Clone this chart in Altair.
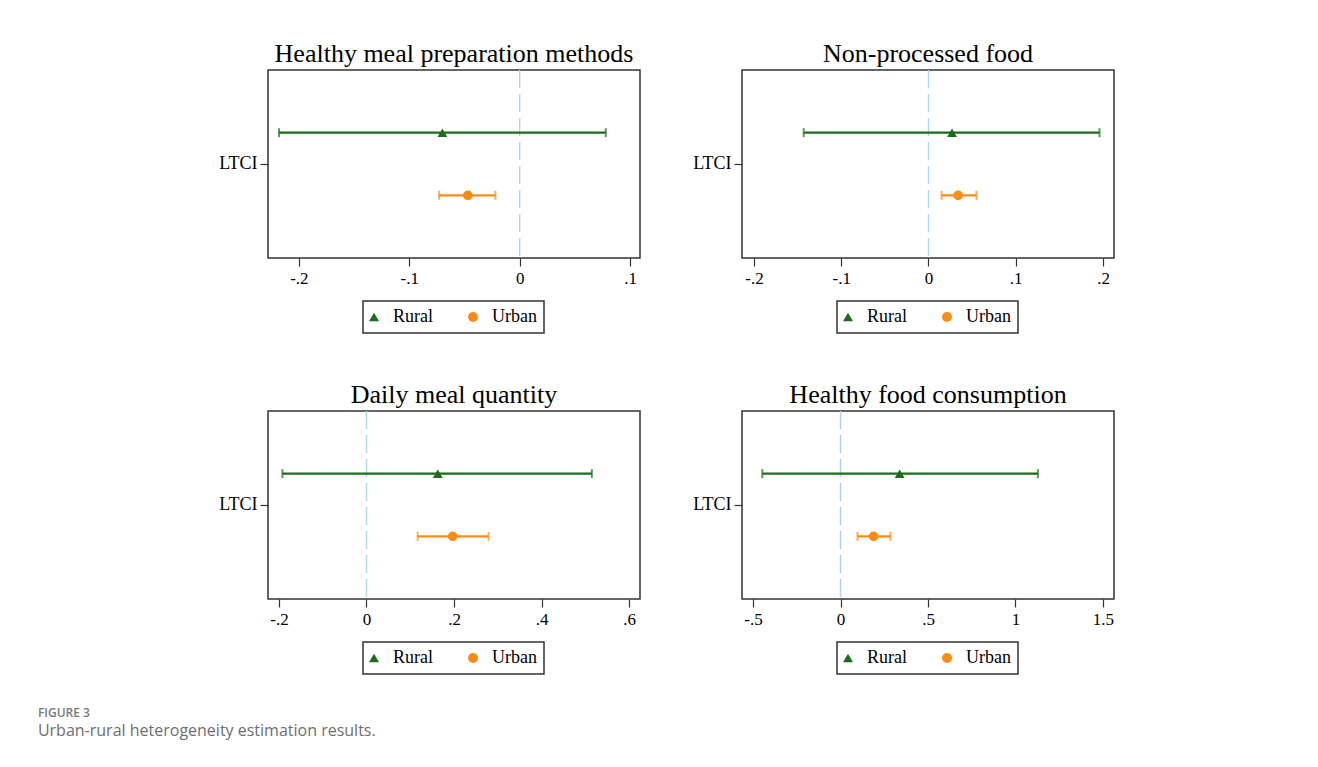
import altair as alt
import pandas as pd

panel_titles = [
    "Healthy meal preparation methods",
    "Non-processed food",
    "Daily meal quantity",
    "Healthy food consumption",
]
term = "LTCI"
groups = ["Rural", "Urban"]

rural_est = [-0.070, 0.027, 0.163, 0.338]
rural_lo = [-0.218, -0.143, -0.192, -0.447]
rural_hi = [0.078, 0.196, 0.515, 1.128]

urban_est = [-0.047, 0.034, 0.197, 0.189]
urban_lo = [-0.073, 0.015, 0.117, 0.097]
urban_hi = [-0.022, 0.055, 0.279, 0.286]

x_ticks = [
    [-0.2, -0.1, 0, 0.1],
    [-0.2, -0.1, 0, 0.1, 0.2],
    [-0.2, 0, 0.2, 0.4, 0.6],
    [-0.5, 0, 0.5, 1, 1.5],
]
x_domains = [
    [-0.228, 0.109],
    [-0.2137, 0.2126],
    [-0.225, 0.625],
    [-0.563, 1.563],
]
ref_value = 0

colors = ["#1b6c1b", "#ff8a14"]
shapes = ["triangle-up", "circle"]
SERIF = "Liberation Serif"


def panel(i):
    df = pd.DataFrame({
        "term": [term, term],
        "group": groups,
        "est": [rural_est[i], urban_est[i]],
        "lo": [rural_lo[i], urban_lo[i]],
        "hi": [rural_hi[i], urban_hi[i]],
    })
    xscale = alt.Scale(domain=x_domains[i], nice=False, zero=False)
    xaxis = alt.Axis(
        values=x_ticks[i],
        labelExpr="replace(toString(datum.value), '0.', '.')",
        title=None, grid=False, domain=False,
        tickSize=8, tickColor="#333", tickWidth=1.2,
        labelFont=SERIF, labelFontSize=17, labelColor="black",
        labelPadding=4, labelFlush=False, labelOverlap=False,
    )
    y = alt.Y(
        "term:N",
        scale=alt.Scale(paddingInner=0, paddingOuter=0),
        axis=alt.Axis(
            title=None, grid=False, domain=False,
            tickSize=8, tickColor="#333", tickWidth=1.2,
            labelFont=SERIF, labelFontSize=18, labelColor="black",
            labelPadding=3,
        ),
    )
    yoff = alt.YOffset(
        "group:N",
        scale=alt.Scale(domain=groups, paddingInner=0, paddingOuter=0.5),
    )
    cscale = alt.Scale(domain=groups, range=colors)
    sscale = alt.Scale(domain=groups, range=shapes)
    legend = alt.Legend(
        orient="none", legendX=95, legendY=231, direction="horizontal",
        title=None, strokeColor="#333", padding=7,
        labelFont=SERIF, labelFontSize=18, labelColor="black",
        labelOffset=10, columnPadding=35, symbolSize=100,
        symbolStrokeWidth=0, symbolOffset=-5,
    )
    base = alt.Chart(df)

    zero = alt.Chart(pd.DataFrame({"z": [ref_value]})).mark_rule(
        color="#a8d6ef", strokeDash=[18, 6], strokeWidth=1.4
    ).encode(x=alt.X("z:Q", scale=xscale, axis=xaxis))

    layers = [zero]
    for g, col in zip(groups, colors):
        sub = base.transform_filter(alt.datum.group == g)
        layers.append(
            sub.mark_rule(strokeWidth=2.4, color=col).encode(
                x=alt.X("lo:Q", scale=xscale, axis=xaxis),
                x2="hi:Q",
                y=y,
                yOffset=yoff,
            )
        )
        layers.append(
            sub.transform_fold(["lo", "hi"], as_=["k", "v"]).mark_tick(
                orient="vertical", size=9, thickness=2, color=col
            ).encode(
                x=alt.X("v:Q", scale=xscale, axis=xaxis),
                y=y,
                yOffset=yoff,
            )
        )
    pts = base.mark_point(filled=True, size=95, opacity=1).encode(
        x=alt.X("est:Q", scale=xscale, axis=xaxis),
        y=y,
        yOffset=yoff,
        color=alt.Color("group:N", scale=cscale, legend=legend),
        shape=alt.Shape("group:N", scale=sscale, legend=legend),
    )
    layers.append(pts)
    return alt.layer(*layers).properties(
        width=372,
        height=188,
        title=alt.Title(
            panel_titles[i], font=SERIF, fontSize=26, fontWeight="normal",
            color="black", offset=2, anchor="middle",
        ),
    )


chart = alt.concat(
    *[panel(i) for i in range(4)],
    columns=2,
    spacing={"row": 153, "column": 102},
).resolve_scale(
    x="independent", color="independent", shape="independent",
).properties(
    bounds="flush",
    padding={"left": 29, "top": 32, "right": 5, "bottom": 5},
    title=alt.Title(
        "FIGURE 3",
        subtitle="Urban-rural heterogeneity estimation results.",
        orient="bottom", anchor="start", frame="bounds", dx=-180, offset=32,
        font="Open Sans", fontSize=12, fontWeight=600, color="#7a7a7a",
        subtitleFont="Open Sans", subtitleFontSize=16, subtitleColor="#6e6e6e",
        subtitlePadding=3,
    ),
).configure_view(
    stroke="#333", strokeWidth=1.5
).configure_legend(
    strokeWidth=1.5
)

chart.save("out.html", embed_options={"renderer": "svg", "actions": False})
